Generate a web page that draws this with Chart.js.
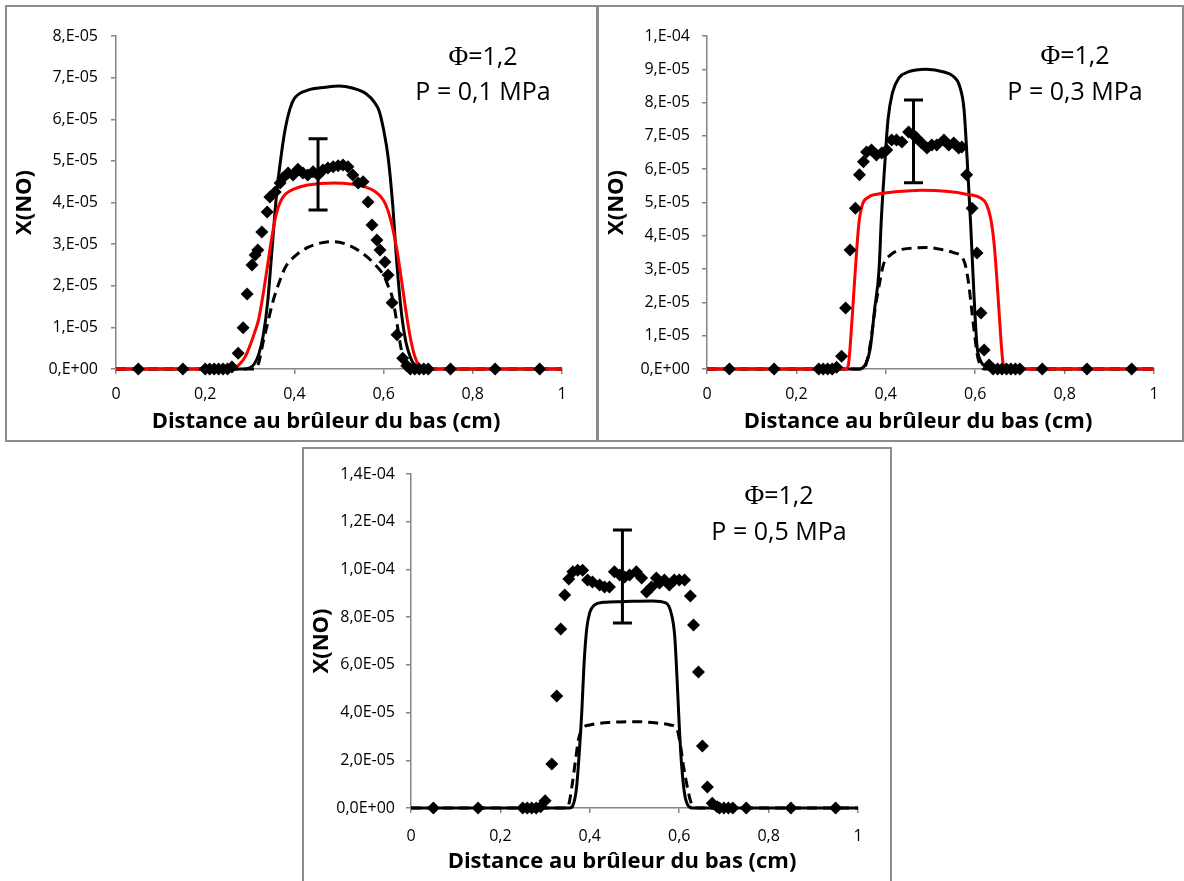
<!DOCTYPE html>
<html>
<head>
<meta charset="utf-8">
<script src="https://cdn.jsdelivr.net/npm/chart.js@4.4.1/dist/chart.umd.min.js"></script>
<style>
  body { margin:0; background:#fff; width:1184px; height:881px; overflow:hidden; position:relative; font-family:'Open Sans', sans-serif; }
  .frame { position:absolute; border:2px solid #8c8c8c; box-sizing:border-box; }
  canvas { position:absolute; }
  .note { position:absolute; width:240px; text-align:center; font-size:25px; line-height:28px; color:#000; white-space:nowrap; }
  .phi { font-family:'Liberation Serif', serif; font-size:27px; }
  .xtitle { position:absolute; width:440px; text-align:center; font-size:22px; font-weight:bold; line-height:30px; color:#000; white-space:nowrap; }
</style>
</head>
<body>
<div class="frame" style="left:5px;top:5px;width:593px;height:437px"></div>
<div class="frame" style="left:597px;top:5px;width:587px;height:437px"></div>
<div class="frame" style="left:302px;top:447px;width:590px;height:450px"></div>

<canvas id="chart1" width="591" height="436" style="left:5px;top:5px"></canvas>
<canvas id="chart2" width="587" height="436" style="left:597px;top:5px"></canvas>
<canvas id="chart3" width="589" height="434" style="left:302px;top:447px"></canvas>

<div class="note" style="left:363px;top:41px"><span class="phi">Φ</span>=1,2</div>
<div class="note" style="left:363px;top:76px">P = 0,1 MPa</div>
<div class="note" style="left:955px;top:40px"><span class="phi">Φ</span>=1,2</div>
<div class="note" style="left:955px;top:76px">P = 0,3 MPa</div>
<div class="note" style="left:659px;top:480px"><span class="phi">Φ</span>=1,2</div>
<div class="note" style="left:659px;top:516px">P = 0,5 MPa</div>

<div class="xtitle" style="left:106px;top:404px">Distance au brûleur du bas (cm)</div>
<div class="xtitle" style="left:698px;top:404px">Distance au brûleur du bas (cm)</div>
<div class="xtitle" style="left:402px;top:844px">Distance au brûleur du bas (cm)</div>

<script>
// all X(NO) values below are in units of 1e-5

var xTickLabels = ['0', '0,2', '0,4', '0,6', '0,8', '1'];
var yTickLabels1 = ['0,E+00', '1,E-05', '2,E-05', '3,E-05', '4,E-05', '5,E-05', '6,E-05', '7,E-05', '8,E-05'];
var yTickLabels2 = ['0,E+00', '1,E-05', '2,E-05', '3,E-05', '4,E-05', '5,E-05', '6,E-05', '7,E-05', '8,E-05', '9,E-05', '1,E-04'];
var yTickLabels3 = ['0,0E+00', '2,0E-05', '4,0E-05', '6,0E-05', '8,0E-05', '1,0E-04', '1,2E-04', '1,4E-04'];

////P = 0,1 MPa////
var exp1X = [0.05, 0.15, 0.20, 0.21, 0.22, 0.23, 0.24, 0.25, 0.26, 0.274, 0.285, 0.294, 0.305, 0.312, 0.318, 0.327, 0.339, 0.345, 0.357, 0.368, 0.374, 0.386, 0.397, 0.408, 0.419, 0.43, 0.442, 0.453, 0.464, 0.475, 0.487, 0.498, 0.509, 0.52, 0.531, 0.543, 0.554, 0.565, 0.574, 0.585, 0.592, 0.603, 0.61, 0.619, 0.63, 0.643, 0.652, 0.66, 0.67, 0.68, 0.69, 0.70, 0.75, 0.85, 0.95];
var exp1Y = [0, 0, 0, 0, 0, 0, 0, 0, 0.05, 0.38, 0.99, 1.8, 2.5, 2.74, 2.86, 3.29, 3.77, 4.13, 4.25, 4.47, 4.59, 4.71, 4.66, 4.8, 4.71, 4.66, 4.74, 4.66, 4.78, 4.83, 4.86, 4.88, 4.9, 4.86, 4.66, 4.47, 4.5, 4.01, 3.46, 3.1, 2.86, 2.57, 2.26, 1.59, 0.82, 0.26, 0.08, 0, 0, 0, 0, 0, 0, 0, 0];
var solid1X = [0, 0.29, 0.30, 0.31, 0.32, 0.33, 0.34, 0.35, 0.36, 0.37, 0.38, 0.39, 0.40, 0.43, 0.47, 0.50, 0.53, 0.56, 0.58, 0.59, 0.60, 0.61, 0.62, 0.63, 0.64, 0.65, 0.66, 0.67, 0.68, 0.69, 1];
var solid1Y = [0, 0, 0.03, 0.12, 0.35, 0.8, 1.6, 2.9, 4.2, 5.1, 5.8, 6.25, 6.5, 6.7, 6.77, 6.8, 6.75, 6.62, 6.4, 6.2, 5.75, 5.1, 4.0, 2.5, 1.35, 0.65, 0.28, 0.08, 0.01, 0, 0];
var red1X = [0, 0.26, 0.27, 0.28, 0.29, 0.30, 0.31, 0.32, 0.33, 0.34, 0.35, 0.36, 0.37, 0.38, 0.40, 0.43, 0.49, 0.53, 0.56, 0.58, 0.60, 0.61, 0.62, 0.63, 0.64, 0.65, 0.66, 0.67, 0.68, 0.69, 1];
var red1Y = [0, 0, 0.05, 0.15, 0.3, 0.55, 0.85, 1.2, 1.8, 2.5, 3.2, 3.75, 4.05, 4.2, 4.33, 4.42, 4.47, 4.44, 4.37, 4.27, 4.05, 3.8, 3.4, 2.85, 2.15, 1.4, 0.75, 0.3, 0.07, 0, 0];
var dash1X = [0, 0.31, 0.32, 0.33, 0.34, 0.35, 0.36, 0.37, 0.38, 0.40, 0.43, 0.46, 0.49, 0.52, 0.55, 0.58, 0.60, 0.61, 0.62, 0.63, 0.64, 0.65, 0.66, 0.67, 1];
var dash1Y = [0, 0, 0.15, 0.65, 1.1, 1.55, 1.9, 2.2, 2.45, 2.7, 2.92, 3.03, 3.06, 2.98, 2.8, 2.52, 2.25, 2.0, 1.7, 1.1, 0.45, 0.12, 0.02, 0, 0];
var err1 = [0.453, 3.82, 5.53]; // x, low, high

////P = 0,3 MPa////
var exp2X = [0.05, 0.15, 0.25, 0.26, 0.27, 0.28, 0.29, 0.301, 0.31, 0.32, 0.332, 0.341, 0.35, 0.357, 0.368, 0.379, 0.391, 0.402, 0.413, 0.424, 0.436, 0.451, 0.462, 0.469, 0.48, 0.492, 0.503, 0.514, 0.53, 0.541, 0.552, 0.563, 0.57, 0.581, 0.593, 0.604, 0.613, 0.62, 0.631, 0.64, 0.65, 0.66, 0.67, 0.68, 0.69, 0.70, 0.75, 0.85, 0.95];
var exp2Y = [0, 0, 0, 0, 0, 0, 0.05, 0.38, 1.83, 3.57, 4.83, 5.83, 6.22, 6.52, 6.58, 6.43, 6.49, 6.58, 6.88, 6.88, 6.82, 7.12, 7.03, 6.94, 6.79, 6.64, 6.73, 6.73, 6.88, 6.73, 6.79, 6.64, 6.67, 5.83, 4.83, 3.48, 1.68, 0.57, 0.12, 0, 0, 0, 0, 0, 0, 0, 0, 0, 0];
var solid2X = [0, 0.34, 0.355, 0.365, 0.375, 0.385, 0.39, 0.397, 0.405, 0.415, 0.43, 0.45, 0.49, 0.53, 0.55, 0.565, 0.575, 0.582, 0.59, 0.597, 0.604, 0.612, 0.625, 0.64, 1];
var solid2Y = [0, 0, 0.15, 0.6, 1.8, 3.0, 4.5, 6.0, 7.5, 8.3, 8.75, 8.92, 9.0, 8.92, 8.8, 8.5, 7.8, 6.3, 4.3, 2.3, 0.7, 0.25, 0.05, 0, 0];
var red2X = [0, 0.31, 0.316, 0.322, 0.328, 0.334, 0.34, 0.348, 0.36, 0.38, 0.42, 0.48, 0.54, 0.58, 0.61, 0.625, 0.635, 0.642, 0.648, 0.653, 0.658, 0.662, 0.668, 1];
var red2Y = [0, 0, 0.1, 1.0, 2.2, 3.4, 4.4, 4.95, 5.15, 5.25, 5.32, 5.37, 5.33, 5.25, 5.15, 4.95, 4.5, 3.8, 2.8, 1.8, 0.8, 0.2, 0, 0];
var dash2X = [0, 0.35, 0.356, 0.366, 0.376, 0.385, 0.395, 0.41, 0.43, 0.46, 0.49, 0.52, 0.55, 0.575, 0.585, 0.592, 0.598, 0.605, 0.612, 0.62, 1];
var dash2Y = [0, 0, 0.15, 0.8, 1.8, 2.5, 3.15, 3.42, 3.57, 3.63, 3.65, 3.6, 3.5, 3.25, 2.6, 1.8, 1.1, 0.4, 0.1, 0, 0];
var err2 = [0.462, 5.59, 8.08];

////P = 0,5 MPa////
var exp3X = [0.05, 0.15, 0.25, 0.26, 0.27, 0.28, 0.29, 0.30, 0.315, 0.326, 0.335, 0.344, 0.353, 0.362, 0.373, 0.384, 0.395, 0.406, 0.422, 0.433, 0.444, 0.455, 0.467, 0.478, 0.489, 0.504, 0.516, 0.527, 0.538, 0.549, 0.556, 0.567, 0.578, 0.589, 0.60, 0.612, 0.625, 0.632, 0.643, 0.652, 0.663, 0.674, 0.685, 0.69, 0.70, 0.71, 0.72, 0.75, 0.85, 0.95];
var exp3Y = [0, 0, 0, 0, 0, 0, 0.05, 0.3, 1.84, 4.69, 7.5, 8.93, 9.6, 9.9, 9.97, 9.97, 9.56, 9.47, 9.35, 9.26, 9.26, 9.9, 9.77, 9.68, 9.77, 9.9, 9.64, 9.05, 9.26, 9.64, 9.43, 9.56, 9.35, 9.56, 9.56, 9.56, 8.89, 7.67, 5.7, 2.6, 0.88, 0.2, 0.05, 0, 0, 0, 0, 0, 0, 0];
var solid3X = [0, 0.355, 0.362, 0.37, 0.376, 0.382, 0.387, 0.393, 0.40, 0.41, 0.43, 0.47, 0.54, 0.57, 0.583, 0.59, 0.595, 0.60, 0.605, 0.612, 0.62, 0.63, 1];
var solid3Y = [0, 0, 0.1, 0.8, 2.2, 4.0, 6.0, 7.5, 8.2, 8.5, 8.62, 8.65, 8.68, 8.6, 8.1, 7.2, 5.5, 3.5, 1.9, 0.6, 0.1, 0, 0];
var dash3X = [0, 0.345, 0.352, 0.36, 0.368, 0.375, 0.385, 0.40, 0.44, 0.50, 0.55, 0.58, 0.595, 0.603, 0.61, 0.618, 0.626, 0.635, 0.645, 1];
var dash3Y = [0, 0, 0.1, 0.9, 2.0, 2.9, 3.35, 3.48, 3.58, 3.62, 3.56, 3.48, 3.3, 2.6, 1.7, 0.9, 0.25, 0.02, 0, 0];
var err3 = [0.473, 7.75, 11.65];

////Error bar plugin////
var errorBarPlugin = {
  id: 'errorBar',
  afterDatasetsDraw: function(chart, args, opts) {
    if (!opts || !opts.bar) return;
    var c = chart.ctx;
    var px = chart.scales.x.getPixelForValue(opts.bar[0]);
    var lo = chart.scales.y.getPixelForValue(opts.bar[1]);
    var hi = chart.scales.y.getPixelForValue(opts.bar[2]);
    c.save();
    c.strokeStyle = '#000';
    c.lineWidth = 3;
    c.beginPath();
    c.moveTo(px, hi); c.lineTo(px, lo);
    c.moveTo(px - 9.5, hi); c.lineTo(px + 9.5, hi);
    c.moveTo(px - 9.5, lo); c.lineTo(px + 9.5, lo);
    c.stroke();
    c.restore();
  }
};
Chart.register(errorBarPlugin);

function pts(xs, ys) {
  return xs.map(function(x, i) { return {x: x, y: ys[i]}; });
}

function lineSet(xs, ys, color, dash) {
  return {
    data: pts(xs, ys),
    showLine: true,
    borderColor: color,
    borderWidth: 3,
    borderDash: dash || [],
    pointRadius: 0,
    cubicInterpolationMode: 'monotone',
    clip: 6
  };
}

function makePanel(id, p) {
  var sets = [{
    data: pts(p.expX, p.expY),
    pointStyle: 'rectRot',
    pointRadius: 6.5,
    backgroundColor: '#000',
    borderColor: '#000',
    borderWidth: 0,
    clip: 8
  }];
  if (p.redX) sets.push(lineSet(p.redX, p.redY, '#ff0000'));
  sets.push(lineSet(p.solidX, p.solidY, '#000'));
  sets.push(lineSet(p.dashX, p.dashY, '#000', [10, 6]));

  var axisGray = '#868686';
  var titleFont = {family: "'Open Sans'", size: 22, weight: 'bold'};
  var tickFont = {family: "'Open Sans'", size: 16};

  return new Chart(document.getElementById(id), {
    type: 'scatter',
    data: { datasets: sets },
    options: {
      responsive: false,
      animation: false,
      events: [],
      layout: { padding: p.pad },
      plugins: {
        legend: { display: false },
        tooltip: { enabled: false },
        errorBar: { bar: p.err }
      },
      scales: {
        x: {
          type: 'linear', min: 0, max: 1,
          border: { color: axisGray, width: 1.5 },
          grid: { drawOnChartArea: false, color: axisGray, lineWidth: 1.5, tickLength: 5 },
          ticks: {
            stepSize: 0.2, color: '#000', font: tickFont, padding: p.xTickPad, maxRotation: 0,
            callback: function(v, i) { return xTickLabels[i]; }
          },
          afterFit: function(s) { s.height = p.xH; }
        },
        y: {
          type: 'linear', min: 0, max: p.yMax,
          border: { color: axisGray, width: 1.5 },
          grid: { drawOnChartArea: false, color: axisGray, lineWidth: 1.5, tickLength: 5 },
          ticks: {
            stepSize: p.yStep, color: '#000', font: tickFont, padding: p.yTickPad,
            callback: function(v, i) { return p.yLabels[i]; }
          },
          title: { display: true, text: 'X(NO)', color: '#000', font: titleFont, padding: 0 },
          afterFit: function(s) { s.width = p.yW; }
        }
      }
    }
  });
}

makePanel('chart1', {
  expX: exp1X, expY: exp1Y, solidX: solid1X, solidY: solid1Y,
  redX: red1X, redY: red1Y, dashX: dash1X, dashY: dash1Y, err: err1,
  yMax: 8, yStep: 1, yLabels: yTickLabels1,
  pad: {left: 7, right: 34, top: 31, bottom: 10}, yW: 104, xH: 62, xTickPad: 11, yTickPad: 13
});

makePanel('chart2', {
  expX: exp2X, expY: exp2Y, solidX: solid2X, solidY: solid2Y,
  redX: red2X, redY: red2Y, dashX: dash2X, dashY: dash2Y, err: err2,
  yMax: 10, yStep: 1, yLabels: yTickLabels2,
  pad: {left: 7, right: 30, top: 31, bottom: 10}, yW: 103, xH: 62, xTickPad: 11, yTickPad: 12
});

makePanel('chart3', {
  expX: exp3X, expY: exp3Y, solidX: solid3X, solidY: solid3Y,
  dashX: dash3X, dashY: dash3Y, err: err3,
  yMax: 14, yStep: 2, yLabels: yTickLabels3,
  pad: {left: 7, right: 33, top: 27, bottom: 8}, yW: 102, xH: 65, xTickPad: 14, yTickPad: 11
});
</script>
</body>
</html>
